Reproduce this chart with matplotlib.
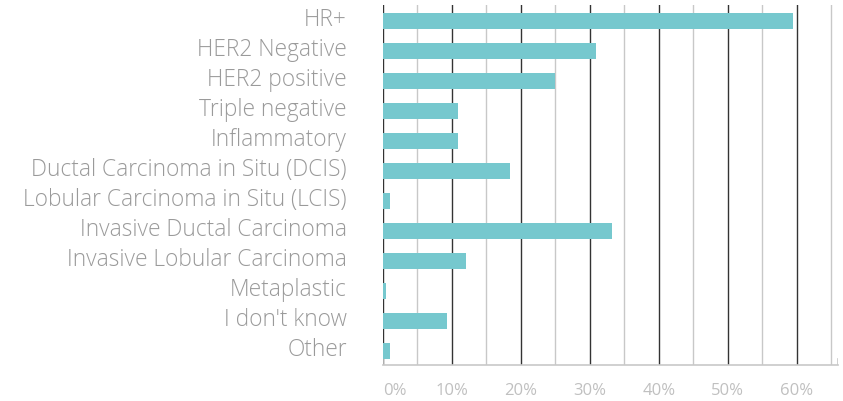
import matplotlib.pyplot as plt
from matplotlib.ticker import MultipleLocator
from matplotlib.transforms import ScaledTranslation

categories = [
    "HR+",
    "HER2 Negative",
    "HER2 positive",
    "Triple negative",
    "Inflammatory",
    "Ductal Carcinoma in Situ (DCIS)",
    "Lobular Carcinoma in Situ (LCIS)",
    "Invasive Ductal Carcinoma",
    "Invasive Lobular Carcinoma",
    "Metaplastic",
    "I don't know",
    "Other",
]
percent = [59.5, 30.9, 24.9, 10.9, 10.9, 18.4, 1.0, 33.2, 12.0, 0.4, 9.3, 1.0]
x_ticks = [0, 10, 20, 30, 40, 50, 60]

bar_color = "#76c8ce"
label_color = "#9a9a9a"
tick_color = "#c0c0c0"
spine_color = "#c8c8c8"

plt.rcParams["font.family"] = ["Open Sans", "DejaVu Sans"]

fig = plt.figure(figsize=(8.43, 4.01), dpi=100)
ax = fig.add_axes([0.4543, 0.0898, 0.5397, 0.8977])

ypos = list(range(len(categories)))
ax.barh(ypos, percent, height=0.53, color=bar_color, zorder=3)

ax.set_xlim(0, 66)
ax.set_ylim(len(categories) - 0.53, -0.53)

# dark lines every 10%, light ones in between
ax.set_xticks(x_ticks)
ax.set_xticklabels([f"{t}%" for t in x_ticks])
ax.xaxis.set_minor_locator(MultipleLocator(5))
ax.grid(axis="x", which="major", color="#333333", linewidth=1.0, zorder=1)
ax.grid(axis="x", which="minor", color="#c8c8c8", linewidth=1.0, zorder=1)

ax.set_yticks(ypos)
ax.set_yticklabels(categories, fontsize=16.4, color=label_color, fontweight="light")
ax.tick_params(axis="y", length=0, pad=26)
ax.tick_params(axis="x", which="both", length=0, pad=13, labelsize=12,
               labelcolor=tick_color)
ax.get_xticklabels()[0].set_horizontalalignment("left")

shift = ScaledTranslation(0, 3 / 72, fig.dpi_scale_trans)
for lab in ax.get_yticklabels():
    lab.set_transform(lab.get_transform() + shift)

for side in ["top", "right", "left"]:
    ax.spines[side].set_visible(False)
ax.spines["bottom"].set_color(spine_color)
ax.spines["bottom"].set_linewidth(1.2)
# small end ticks on the axis line
for xend in ax.get_xlim():
    ax.axvline(xend, ymin=0, ymax=0.018, color=spine_color, linewidth=1.2, zorder=2)

fig.savefig("out.png", dpi=100)
